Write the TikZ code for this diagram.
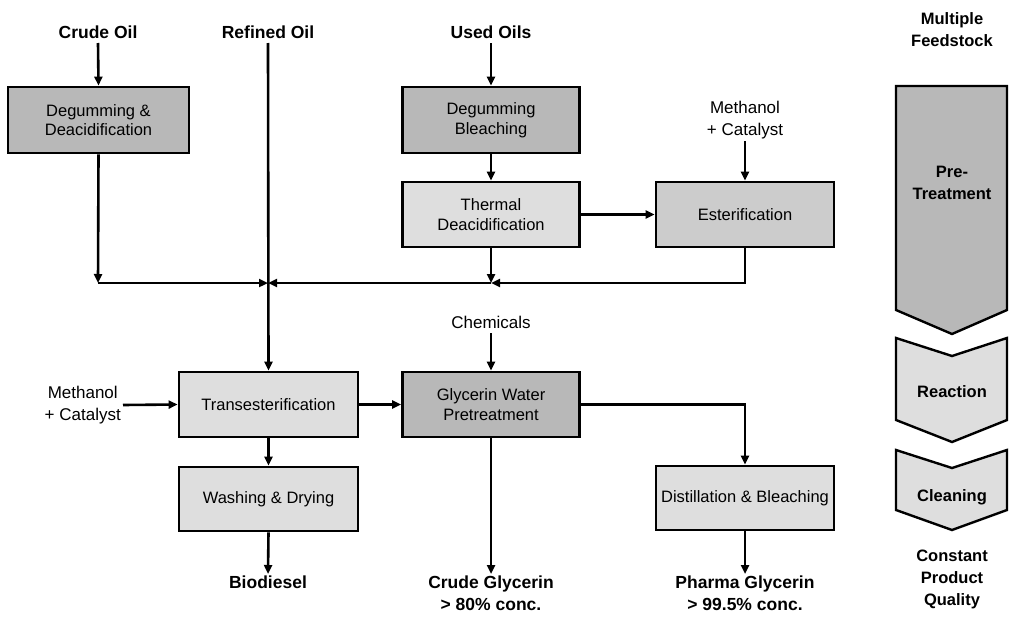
\documentclass[tikz,border=0pt]{standalone}
\usepackage{fontspec}
\setmainfont{Liberation Sans}
\usetikzlibrary{arrows.meta}
\definecolor{darkfill}{gray}{0.72}
\definecolor{midfill}{gray}{0.80}
\definecolor{lightfill}{gray}{0.87}
\tikzset{
  procbox/.style={draw, line width=2.8pt, align=center, inner sep=0pt,
    font=\fontsize{16.5}{19.5}\selectfont},
  lab/.style={align=center, inner sep=3pt, font=\bfseries\fontsize{17.5}{22}\selectfont},
  rlab/.style={align=center, inner sep=2pt, font=\fontsize{17}{22}\selectfont},
  hlab/.style={align=center, font=\bfseries\fontsize{16.5}{22}\selectfont},
  arr/.style={line width=2.6pt, -{Triangle[length=9pt,width=8pt]}},
  chev/.style={draw, line width=2.4pt, line join=miter},
}
\begin{document}
\begin{tikzpicture}[x=1pt,y=-1pt]
\path[use as bounding box] (0,0) rectangle (1009,637);

% ---------- boxes ----------
\node[procbox, fill=darkfill, minimum width=181pt, minimum height=66pt] (dd) at (98.5,120) {Degumming \&\\Deacidification};
\node[procbox, fill=darkfill, minimum width=177pt, minimum height=66pt] (db) at (491,120) {Degumming\\Bleaching};
\node[procbox, fill=lightfill, minimum width=177pt, minimum height=65pt] (td) at (491,214.5) {Thermal\\Deacidification};
\node[procbox, fill=midfill, minimum width=178pt, minimum height=65pt] (est) at (745,214.5) {Esterification};
\node[procbox, fill=lightfill, minimum width=179pt, minimum height=65pt] (trans) at (268.5,404.5) {Transesterification};
\node[procbox, fill=lightfill, minimum width=179pt, minimum height=64pt] (wash) at (268.5,499) {Washing \& Drying};
\node[procbox, fill=darkfill, minimum width=177pt, minimum height=65pt] (gly) at (491,404.5) {Glycerin Water\\Pretreatment};
\node[procbox, fill=lightfill, minimum width=178pt, minimum height=64pt] (dist) at (745,498) {Distillation \& Bleaching};

% ---------- labels ----------
\node[lab, anchor=south, inner sep=4pt] (crude) at (98,43) {Crude Oil};
\node[lab, anchor=south, inner sep=4pt] (refined) at (268,43) {Refined Oil};
\node[lab, anchor=south, inner sep=4pt] (used) at (491,43) {Used Oils};
\node[rlab, anchor=south] (meth1) at (745,141) {Methanol\\+ Catalyst};
\node[rlab, anchor=east] (meth2) at (123,405) {Methanol\\+ Catalyst};
\node[rlab, anchor=south, inner sep=4pt] (chem) at (491,333) {Chemicals};
\node[lab, anchor=north, inner sep=2pt] (bio) at (268,574) {Biodiesel};
\node[lab, anchor=north, inner sep=2pt] (cg) at (491,574) {Crude Glycerin\\> 80\% conc.};
\node[lab, anchor=north, inner sep=2pt] (pg) at (745,574) {Pharma Glycerin\\> 99.5\% conc.};

% ---------- junction coordinates ----------
\coordinate (j1) at (98,283);
\coordinate (j2) at (268,283);
\coordinate (j3) at (491,283);

% ---------- connectors ----------
\draw[arr] (crude.south) -- (dd.north);
\draw[arr] (dd.south) -- (j1);
\draw[arr] (j1) -- (j2);
\draw[arr] (refined.south) -- (trans.north);
\draw[arr] (used.south) -- (db.north);
\draw[arr] (db.south) -- (td.north);
\draw[arr] (td.east) -- (est.west);
\draw[arr] (meth1.south) -- (est.north);
\draw[arr] (td.south) -- (j3);
\draw[arr] (est.south) |- (j3);
\draw[arr] (j3) -- (j2);
\draw[arr] (meth2.east) -- (trans.west);
\draw[arr] (trans.south) -- (wash.north);
\draw[arr] (wash.south) -- (bio.north);
\draw[arr] (trans.east) -- (gly.west);
\draw[arr] (chem.south) -- (gly.north);
\draw[arr] (gly.south) -- (cg.north);
\draw[arr] (gly.east) -| (dist.north);
\draw[arr] (dist.south) -- (pg.north);

% ---------- right column ----------
\node[hlab] (mf) at (952,30) {Multiple\\Feedstock};
\draw[chev, fill=darkfill] (896,86) -- (1007,86) -- (1007,310) -- (952,334) -- (896,310) -- cycle;
\node[hlab] (pre) at (952,183) {Pre-\\Treatment};
\draw[chev, fill=lightfill] (896,338) -- (952,356) -- (1007,338) -- (1007,420) -- (952,442) -- (896,420) -- cycle;
\node[hlab] (rea) at (952,392) {Reaction};
\draw[chev, fill=lightfill] (896,450) -- (952,468) -- (1007,450) -- (1007,510) -- (952,530) -- (896,510) -- cycle;
\node[hlab] (cle) at (952,497) {Cleaning};
\node[hlab] (cpq) at (952,579) {Constant\\Product\\Quality};
\end{tikzpicture}
\end{document}
